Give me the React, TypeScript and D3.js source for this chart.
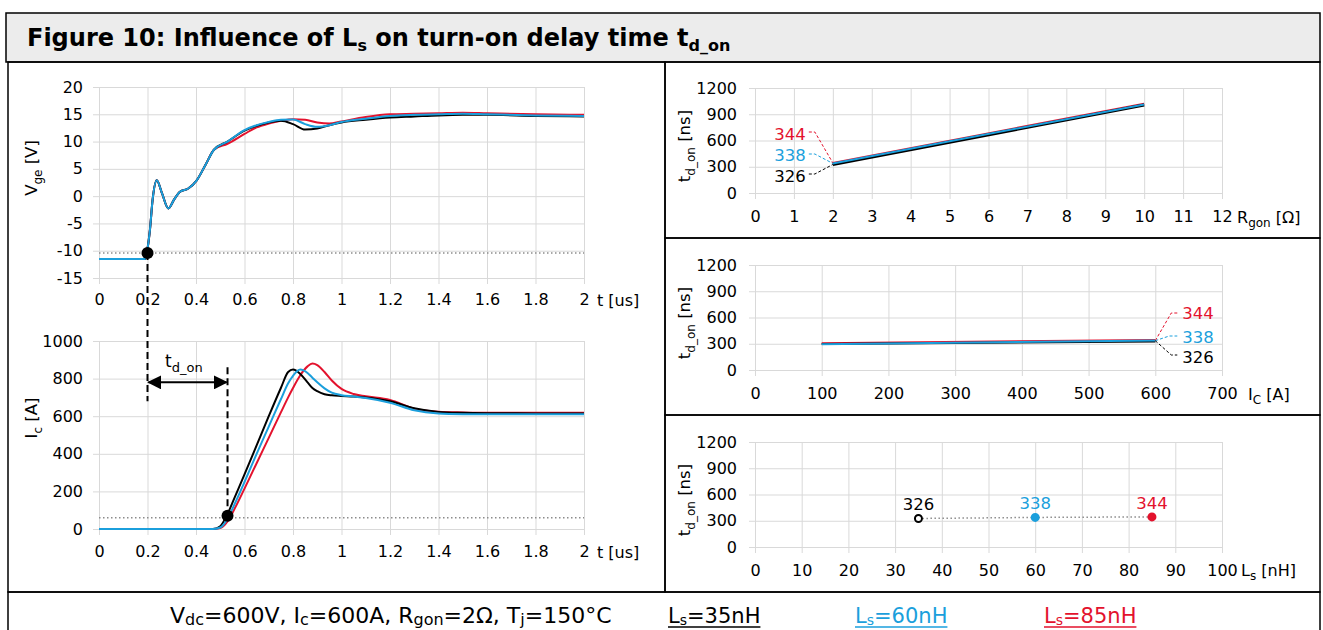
import { useEffect, useRef } from "react";
import * as d3 from "d3";

const RED = "#e3122d";
const BLUE = "#1b9fdc";
const BLACK = "#000000";
const GRID = "#d9d9d9";
const FONT = "'DejaVu Sans', Verdana, sans-serif";

// Vge waveforms, t in us
const vgeTime = [0, 0.19, 0.197, 0.21, 0.221, 0.238, 0.26, 0.286, 0.31, 0.334, 0.368, 0.403, 0.44, 0.474,
  0.53, 0.6, 0.65, 0.7, 0.75, 0.8, 0.85, 0.9, 0.95, 1.0, 1.1, 1.2, 1.3, 1.4, 1.5, 1.6, 1.8, 2.0];
const vgeStart = [-11.5, -11.5, -10.4, -6.2, -0.7, 2.9, 0.5, -2.25, -0.6, 0.8, 1.4, 2.9, 5.8, 8.5];
const vge35 = [10.0, 12.0, 12.9, 13.5, 13.8, 13.2, 12.2, 12.4, 13.0, 13.5, 14.0, 14.4, 14.6, 14.8, 14.9, 14.9, 14.7, 14.6];
const vge60 = [10.0, 12.1, 13.0, 13.6, 14.0, 14.05, 13.2, 12.7, 13.0, 13.6, 14.2, 14.7, 14.9, 15.0, 15.1, 15.0, 14.8, 14.7];
const vge85 = [9.6, 11.4, 12.6, 13.3, 13.8, 14.1, 14.0, 13.5, 13.3, 13.7, 14.5, 15.0, 15.1, 15.2, 15.3, 15.2, 15.0, 14.9];

// Ic waveforms
const icTime = [0, 0.45, 0.47, 0.5, 0.53, 0.56, 0.6, 0.65, 0.7, 0.75, 0.78, 0.8, 0.83, 0.86, 0.88, 0.9, 0.93,
  0.96, 1.0, 1.05, 1.1, 1.2, 1.3, 1.4, 1.5, 1.6, 1.8, 2.0];
const ic35 = [0, 0, 0, 15, 80, 170, 290, 445, 600, 750, 835, 848, 825, 780, 750, 733, 717, 711, 708, 705, 700, 680, 642, 623, 618, 616, 615, 615];
const ic60 = [0, 0, 0, 8, 55, 135, 250, 400, 545, 690, 775, 815, 848, 830, 805, 780, 748, 725, 712, 705, 697, 672, 632, 615, 611, 610, 610, 610];
const ic85 = [0, 0, 0, 5, 40, 110, 215, 350, 485, 620, 700, 750, 818, 865, 880, 872, 835, 790, 745, 718, 706, 686, 640, 624, 620, 618, 618, 618];

// reference levels and delay markers
const vgeLevel = -10.4;
const icLevel = 60;
const delayStart = 0.2;
const delayEnd = 0.53;

// td_on vs Rgon
const rgonX = [2, 10];
const tdRgon35 = [326, 1005];
const tdRgon60 = [338, 1012];
const tdRgon85 = [344, 1020];

// td_on vs Ic
const icX = [100, 600];
const tdIc35 = [298, 326];
const tdIc60 = [295, 338];
const tdIc85 = [305, 344];

// td_on vs Ls
const lsX = [35, 60, 85];
const tdLs = [326, 338, 344];

const timeTicks = [0, 0.2, 0.4, 0.6, 0.8, 1, 1.2, 1.4, 1.6, 1.8, 2];
const vgeTicks = [-15, -10, -5, 0, 5, 10, 15, 20];
const icTicks = [0, 200, 400, 600, 800, 1000];
const tdTicks = [0, 300, 600, 900, 1200];
const rgonTicks = [0, 1, 2, 3, 4, 5, 6, 7, 8, 9, 10, 11, 12];
const icAxisTicks = [0, 100, 200, 300, 400, 500, 600, 700];
const lsTicks = [0, 10, 20, 30, 40, 50, 60, 70, 80, 90, 100];

const seriesColors = [BLACK, BLUE, RED];
const legendLabels = ["35nH", "60nH", "85nH"];

type Sel = d3.Selection<any, any, any, any>;

function rich(t: Sel, parts: [string, boolean][], size: number, sub: number, shift = 0.28) {
  let down = false;
  parts.forEach(([s, isSub]) => {
    const ts = t.append("tspan").text(s);
    if (isSub) {
      ts.attr("font-size", sub);
      if (!down) ts.attr("dy", size * shift);
      down = true;
    } else {
      ts.attr("font-size", size);
      if (down) ts.attr("dy", -size * shift);
      down = false;
    }
  });
  return t;
}

function grid(g: Sel, x: any, y: any, xTicks: number[], yTicks: number[], xPad: number, yPad: number) {
  const [x0, x1] = x.range();
  const [y0, y1] = y.range();
  const ax = g.append("g").attr("transform", `translate(0,${y0 + 6})`)
    .call(d3.axisBottom(x).tickValues(xTicks).tickSize(-(y0 - y1 + 6)).tickPadding(xPad).tickFormat((d: any) => String(d)));
  const ay = g.append("g").attr("transform", `translate(${x0 - 6},0)`)
    .call(d3.axisLeft(y).tickValues(yTicks).tickSize(-(x1 - x0 + 6)).tickPadding(yPad).tickFormat((d: any) => String(d)));
  [ax, ay].forEach((a) => {
    a.attr("font-size", 16).attr("font-family", FONT);
    a.select(".domain").remove();
    a.selectAll("line").attr("stroke", GRID).attr("stroke-width", 1);
    a.selectAll("text").attr("fill", "#000");
  });
}

function yTitle(g: Sel, cx: number, cy: number, parts: [string, boolean][]) {
  const t = g.append("text").attr("transform", `translate(${cx},${cy}) rotate(-90)`)
    .attr("text-anchor", "middle").attr("font-family", FONT).attr("fill", "#000");
  rich(t, parts, 16.5, 12);
}

function xTitle(g: Sel, x: number, y: number, parts: [string, boolean][]) {
  const t = g.append("text").attr("x", x).attr("y", y).attr("font-family", FONT).attr("fill", "#000");
  rich(t, parts, 16, 12);
}

const App = () => {
  const svgRef = useRef<SVGSVGElement>(null);

  useEffect(() => {
    const svg = d3.select(svgRef.current);
    svg.selectAll("*").remove();

    const defs = svg.append("defs");
    defs.append("marker").attr("id", "arr").attr("viewBox", "0 0 10 10").attr("refX", 9).attr("refY", 5)
      .attr("markerWidth", 7).attr("markerHeight", 7).attr("orient", "auto-start-reverse")
      .append("path").attr("d", "M0,0 L10,5 L0,10 z").attr("fill", "#000");

    // frame
    const frameG = svg.append("g").attr("fill", "none").attr("stroke", "#000").attr("stroke-width", 1.5);
    frameG.append("rect").attr("x", 6).attr("y", 13).attr("width", 1314).attr("height", 49).attr("fill", "#ececec");
    frameG.append("rect").attr("x", 8).attr("y", 62).attr("width", 657).attr("height", 530);
    frameG.append("rect").attr("x", 665).attr("y", 62).attr("width", 655).attr("height", 176);
    frameG.append("rect").attr("x", 665).attr("y", 238).attr("width", 655).attr("height", 177);
    frameG.append("rect").attr("x", 665).attr("y", 415).attr("width", 655).attr("height", 177);
    frameG.append("rect").attr("x", 8).attr("y", 592).attr("width", 1312).attr("height", 50);

    const title = svg.append("text").attr("x", 27).attr("y", 46).attr("font-family", FONT)
      .attr("font-weight", "bold").attr("fill", "#000");
    rich(title, [["Figure 10: Influence of L", false], ["s", true], [" on turn-on delay time t", false], ["d_on", true]], 24, 16, 0.22);

    // ---- Vge vs t ----
    const xT = d3.scaleLinear().domain([0, 2]).range([99, 584]);
    const yV = d3.scaleLinear().domain([-15, 20]).range([278, 87]);
    const gV = svg.append("g");
    grid(gV, xT, yV, timeTicks, vgeTicks, 10, 10);
    yTitle(gV, 37, 168, [["V", false], ["ge", true], [" [V]", false]]);
    xTitle(gV, 597, 306, [["t [us]", false]]);

    const lineV = d3.line<number>().x((_, i) => xT(vgeTime[i])).y((d) => yV(d)).curve(d3.curveMonotoneX);
    gV.append("line").attr("x1", xT(0)).attr("x2", xT(2)).attr("y1", yV(vgeLevel)).attr("y2", yV(vgeLevel))
      .attr("stroke", "#8c8c8c").attr("stroke-width", 1.5).attr("stroke-dasharray", "1.5,2.5");
    [[vge85, RED], [vge35, BLACK], [vge60, BLUE]].forEach(([vals, c]) => {
      gV.append("path").datum([...vgeStart, ...(vals as number[])]).attr("d", lineV as any)
        .attr("fill", "none").attr("stroke", c as string).attr("stroke-width", 2);
    });

    // ---- Ic vs t ----
    const yI = d3.scaleLinear().domain([0, 1000]).range([529, 341]);
    const gI = svg.append("g");
    grid(gI, xT, yI, timeTicks, icTicks, 11, 10);
    yTitle(gI, 37, 418, [["I", false], ["c", true], [" [A]", false]]);
    xTitle(gI, 597, 558, [["t [us]", false]]);

    const lineI = d3.line<number>().x((_, i) => xT(icTime[i])).y((d) => yI(d)).curve(d3.curveMonotoneX);
    gI.append("line").attr("x1", xT(0)).attr("x2", xT(2)).attr("y1", yI(icLevel)).attr("y2", yI(icLevel))
      .attr("stroke", "#8c8c8c").attr("stroke-width", 1.5).attr("stroke-dasharray", "1.5,2.5");
    [[ic85, RED], [ic35, BLACK], [ic60, BLUE]].forEach(([vals, c]) => {
      gI.append("path").datum(vals as number[]).attr("d", lineI as any)
        .attr("fill", "none").attr("stroke", c as string).attr("stroke-width", 2);
    });

    // delay annotation
    const ann = svg.append("g");
    ann.append("line").attr("x1", xT(delayStart)).attr("x2", xT(delayStart)).attr("y1", yV(vgeLevel)).attr("y2", yI(680))
      .attr("stroke", "#000").attr("stroke-width", 2).attr("stroke-dasharray", "7,4");
    ann.append("line").attr("x1", xT(delayEnd)).attr("x2", xT(delayEnd)).attr("y1", yI(860)).attr("y2", yI(70))
      .attr("stroke", "#000").attr("stroke-width", 2).attr("stroke-dasharray", "7,4");
    ann.append("line").attr("x1", xT(delayStart) + 1).attr("x2", xT(delayEnd) - 1).attr("y1", yI(780)).attr("y2", yI(780))
      .attr("stroke", "#000").attr("stroke-width", 2)
      .attr("marker-start", "url(#arr)").attr("marker-end", "url(#arr)");
    ann.append("circle").attr("cx", xT(delayStart)).attr("cy", yV(vgeLevel)).attr("r", 6).attr("fill", "#000");
    ann.append("circle").attr("cx", xT(delayEnd)).attr("cy", yI(70)).attr("r", 6).attr("fill", "#000");
    const tdl = ann.append("text").attr("x", 165).attr("y", 367).attr("font-family", FONT).attr("fill", "#000");
    rich(tdl, [["t", false], ["d_on", true]], 17, 13);

    // ---- right charts ----
    const tdTitle: [string, boolean][] = [["t", false], ["d_on", true], [" [ns]", false]];

    // td vs Rgon
    const xR = d3.scaleLinear().domain([0, 12]).range([755, 1222]);
    const yR1 = d3.scaleLinear().domain([0, 1200]).range([193, 88]);
    const g1 = svg.append("g");
    grid(g1, xR, yR1, rgonTicks, tdTicks, 12, 12);
    yTitle(g1, 690, 146, tdTitle);
    xTitle(g1, 1237, 223, [["R", false], ["gon", true], [" [Ω]", false]]);
    const line1 = d3.line<number>().x((_, i) => xR(rgonX[i])).y((d) => yR1(d));
    [[tdRgon85, RED], [tdRgon35, BLACK], [tdRgon60, BLUE]].forEach(([vals, c]) => {
      g1.append("path").datum(vals as number[]).attr("d", line1 as any)
        .attr("fill", "none").attr("stroke", c as string).attr("stroke-width", c === BLACK ? 3 : 2);
    });
    // leader labels at Rgon = 2
    const px1 = xR(rgonX[0]);
    const leaders1: [number, string, number, number][] = [
      [tdRgon85[0], RED, 132, 140],
      [tdRgon60[0], BLUE, 154, 161],
      [tdRgon35[0], BLACK, 174, 182],
    ];
    leaders1.forEach(([v, c, ly, by]) => {
      g1.append("path").attr("d", `M${px1 - 24},${ly} L${px1 - 18},${ly} L${px1},${yR1(v)}`)
        .attr("fill", "none").attr("stroke", c).attr("stroke-width", 1).attr("stroke-dasharray", "3,2");
      g1.append("text").attr("x", px1 - 27).attr("y", by).attr("text-anchor", "end")
        .attr("font-family", FONT).attr("font-size", 16.5).attr("fill", c).text(String(v));
    });

    // td vs Ic
    const xC = d3.scaleLinear().domain([0, 700]).range([755, 1222]);
    const yR2 = d3.scaleLinear().domain([0, 1200]).range([370, 265]);
    const g2 = svg.append("g");
    grid(g2, xC, yR2, icAxisTicks, tdTicks, 12, 12);
    yTitle(g2, 690, 323, tdTitle);
    xTitle(g2, 1248, 400, [["I", false], ["C", true], [" [A]", false]]);
    const line2 = d3.line<number>().x((_, i) => xC(icX[i])).y((d) => yR2(d));
    [[tdIc85, RED], [tdIc35, BLACK], [tdIc60, BLUE]].forEach(([vals, c]) => {
      g2.append("path").datum(vals as number[]).attr("d", line2 as any)
        .attr("fill", "none").attr("stroke", c as string).attr("stroke-width", 2);
    });
    const px2 = xC(icX[1]);
    const py2 = yR2(335);
    const leaders2: [number, string, number, number, number][] = [
      [tdIc85[1], RED, 313, 319, 16],
      [tdIc60[1], BLUE, 336, 343, 14],
      [tdIc35[1], BLACK, 355, 363, 16],
    ];
    leaders2.forEach(([v, c, ly, by, dx]) => {
      g2.append("path").attr("d", `M${px2},${py2} L${px2 + dx},${ly} L${px2 + 22},${ly}`)
        .attr("fill", "none").attr("stroke", c).attr("stroke-width", 1).attr("stroke-dasharray", "3,2");
      g2.append("text").attr("x", px2 + 27).attr("y", by)
        .attr("font-family", FONT).attr("font-size", 16.5).attr("fill", c).text(String(v));
    });

    // td vs Ls
    const xL = d3.scaleLinear().domain([0, 100]).range([755, 1222]);
    const yR3 = d3.scaleLinear().domain([0, 1200]).range([547, 442]);
    const g3 = svg.append("g");
    grid(g3, xL, yR3, lsTicks, tdTicks, 12, 12);
    yTitle(g3, 690, 500, tdTitle);
    xTitle(g3, 1241, 576, [["L", false], ["s", true], [" [nH]", false]]);
    const line3 = d3.line<number>().x((_, i) => xL(lsX[i])).y((d) => yR3(d));
    g3.append("path").datum(tdLs).attr("d", line3 as any).attr("fill", "none")
      .attr("stroke", "#8c8c8c").attr("stroke-width", 1.5).attr("stroke-dasharray", "1.5,2.5");
    tdLs.forEach((v, i) => {
      const c = seriesColors[i];
      g3.append("circle").attr("cx", xL(lsX[i])).attr("cy", yR3(v)).attr("r", 3.5)
        .attr("fill", i === 0 ? "#fff" : c).attr("stroke", c).attr("stroke-width", 2);
      g3.append("text").attr("x", xL(lsX[i])).attr("y", yR3(v) - 8).attr("text-anchor", "middle")
        .attr("font-family", FONT).attr("font-size", 16.5).attr("fill", c).text(String(v));
    });

    // ---- footer ----
    const cond = svg.append("text").attr("x", 170).attr("y", 623).attr("font-family", FONT).attr("fill", "#000");
    rich(cond, [["V", false], ["dc", true], ["=600V, I", false], ["c", true], ["=600A, R", false], ["gon", true],
      ["=2Ω, T", false], ["j", true], ["=150°C", false]], 22, 16, 0.1);
    const legX = [668, 855, 1044];
    legendLabels.forEach((lab, i) => {
      const t = svg.append("text").attr("x", legX[i]).attr("y", 623).attr("font-family", FONT).attr("fill", seriesColors[i]);
      rich(t, [["L", false], ["s", true], ["=" + lab, false]], 21, 14, 0.1);
      const w = (t.node() as SVGTextElement).getComputedTextLength();
      svg.append("line").attr("x1", legX[i]).attr("x2", legX[i] + w).attr("y1", 627).attr("y2", 627)
        .attr("stroke", seriesColors[i]).attr("stroke-width", 1.5);
    });
  }, []);

  return (
    <svg ref={svgRef} width={1323} height={630}
      style={{ position: "absolute", left: 0, top: 0, background: "#fff" }} />
  );
};

export default App;
